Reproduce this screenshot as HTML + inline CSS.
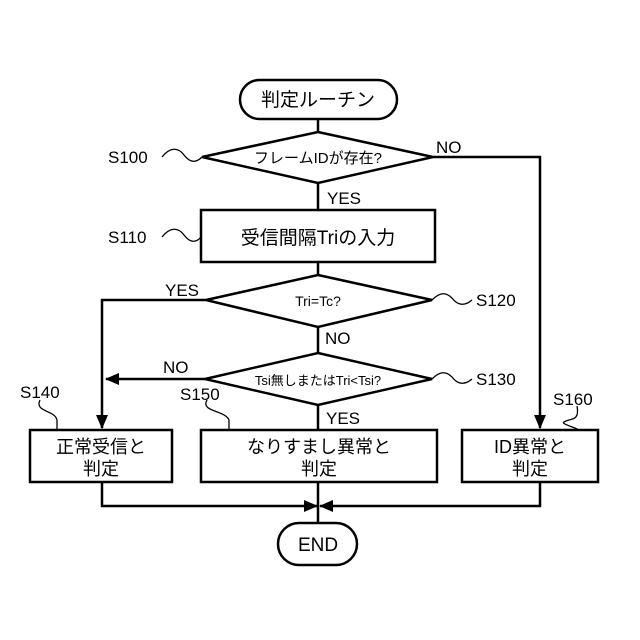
<!DOCTYPE html>
<html><head><meta charset="utf-8"><style>
body{margin:0;background:#fff}
svg{display:block}
text{font-family:"Liberation Sans","Noto Sans CJK JP",sans-serif;fill:#000}
</style></head><body>
<svg width="640" height="640" viewBox="0 0 640 640" xmlns="http://www.w3.org/2000/svg">
<defs><marker id="a" markerWidth="10" markerHeight="10" refX="9" refY="5" orient="auto" markerUnits="userSpaceOnUse"><path d="M0,0 L10,5 L0,10 z" fill="#000"/></marker>
<marker id="b" markerWidth="14" markerHeight="14" refX="13" refY="7" orient="auto" markerUnits="userSpaceOnUse"><path d="M0,1 L14,7 L0,13 z" fill="#000"/></marker></defs>
<g stroke="#000" stroke-width="2.5" fill="none">
<rect x="240" y="80" width="157" height="39" rx="19.5"/>
<line x1="318" y1="119" x2="318" y2="132"/>
<polygon points="318,132 433,157 318,183 202,157"/>
<line x1="318" y1="183" x2="318" y2="210"/>
<rect x="201" y="210" width="234" height="52"/>
<line x1="318" y1="262" x2="318" y2="275"/>
<polygon points="318,275 432,300 318,327 206,300"/>
<line x1="318" y1="327" x2="318" y2="353"/>
<polygon points="318,353 432,379 318,405 205,379"/>
<line x1="318" y1="405" x2="318" y2="430"/>
<polyline points="433,157 540,157 540,428" marker-end="url(#b)"/>
<polyline points="206,300 102,300 102,428" marker-end="url(#b)"/>
<line x1="205" y1="379" x2="106" y2="379" marker-end="url(#b)"/>
<rect x="30" y="430" width="142" height="52"/>
<rect x="201" y="430" width="236" height="52"/>
<rect x="462" y="430" width="136" height="52"/>
<polyline points="102,482 102,506 317,506" marker-end="url(#b)"/>
<polyline points="540,482 540,506 320,506" marker-end="url(#b)"/>
<line x1="318" y1="482" x2="318" y2="523"/>
<rect x="278" y="523" width="79" height="42" rx="21"/>
</g>
<g stroke="#000" stroke-width="1.3" fill="none">
<path d="M162,157 C170,147 178,147 184,155 C190,163 196,163 202,157"/>
<path d="M162,237 C170,227 178,227 184,235 C190,243 196,243 201,237"/>
<path d="M432,300 C440,292 446,292 452,298 C458,306 465,306 472,300"/>
<path d="M432,379 C440,371 446,371 452,377 C458,385 465,385 472,379"/>
<path d="M40,400 C34,412 55,410 57,420 L57,430"/>
<path d="M207,400 C200,412 225,410 229,420 L229,430"/>
<path d="M577,406 C580,422 570,418 564,422 C560,424 578,428 578,430"/>
</g>
<g font-size="17">
<text x="318" y="106" text-anchor="middle" font-size="19">判定ルーチン</text>
<text x="318" y="163" text-anchor="middle" font-size="15">フレームIDが存在?</text>
<text x="318" y="244" text-anchor="middle" font-size="19">受信間隔Triの入力</text>
<text x="318" y="306" text-anchor="middle" font-size="14">Tri=Tc?</text>
<text x="318" y="385" text-anchor="middle" font-size="13">Tsi無しまたはTri&lt;Tsi?</text>
<text x="101" y="453" text-anchor="middle" font-size="18">正常受信と</text>
<text x="101" y="475" text-anchor="middle" font-size="18">判定</text>
<text x="319" y="453" text-anchor="middle" font-size="18">なりすまし異常と</text>
<text x="319" y="475" text-anchor="middle" font-size="18">判定</text>
<text x="530" y="453" text-anchor="middle" font-size="18">ID異常と</text>
<text x="530" y="475" text-anchor="middle" font-size="18">判定</text>
<text x="318" y="551" text-anchor="middle" font-size="19">END</text>
<text x="108" y="163">S100</text>
<text x="108" y="243">S110</text>
<text x="476" y="306">S120</text>
<text x="476" y="385">S130</text>
<text x="20" y="398">S140</text>
<text x="180" y="400">S150</text>
<text x="553" y="405">S160</text>
<text x="436" y="153">NO</text>
<text x="327" y="204">YES</text>
<text x="165" y="296">YES</text>
<text x="325" y="344">NO</text>
<text x="163" y="373">NO</text>
<text x="326" y="424">YES</text>
</g>
</svg>
</body></html>
